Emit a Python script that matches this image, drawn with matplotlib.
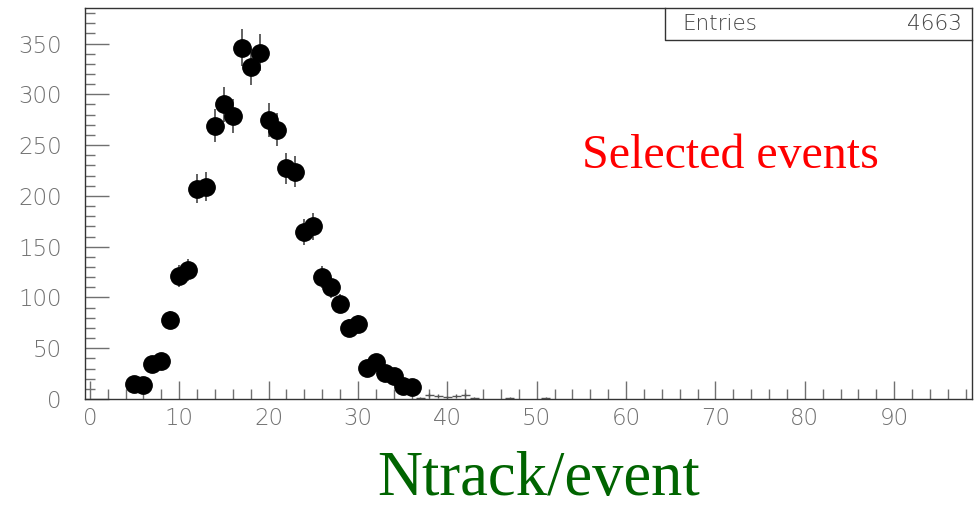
import numpy as np
import matplotlib.pyplot as plt
from matplotlib.ticker import MultipleLocator

# Ntrack per event histogram (bin centres and counts)
ntrack = [5, 6, 7, 8, 9, 10, 11, 12, 13, 14, 15, 16, 17, 18, 19, 20, 21, 22, 23,
          24, 25, 26, 27, 28, 29, 30, 31, 32, 33, 34, 35, 36]
counts = [15, 14, 34, 37, 78, 121, 127, 207, 209, 269, 290, 279, 346, 327, 341, 275,
          265, 227, 224, 164, 170, 120, 110, 94, 70, 74, 31, 36, 26, 23, 13, 12]

# sparse tail bins, drawn as plain crosses
tail_x = [37, 38, 39, 40, 41, 42, 43, 47, 51]
tail_y = [1, 4, 3, 2, 3, 4, 1, 1, 1]

entries = 4663

fig = plt.figure(figsize=(9.74, 5.09), dpi=100)
ax = fig.add_axes([85.3 / 974, 110 / 509, (972 - 85.3) / 974, (399 - 8) / 509])

tick_grey = "#707070"

ax.errorbar(tail_x, tail_y, yerr=np.sqrt(tail_y), xerr=0.5, fmt="none",
            ecolor="#555555", elinewidth=1.0, capsize=0)
ax.errorbar(ntrack, counts, yerr=np.sqrt(counts), fmt="o", color="black",
            markersize=12.5, ecolor="#555555", elinewidth=1.3, capsize=0)

ax.set_xlim(-0.5, 98.7)
ax.set_ylim(0, 385)

ax.xaxis.set_major_locator(MultipleLocator(10))
ax.xaxis.set_minor_locator(MultipleLocator(2))
ax.yaxis.set_major_locator(MultipleLocator(50))
ax.yaxis.set_minor_locator(MultipleLocator(10))

ax.tick_params(axis="x", which="both", direction="in", top=False, colors=tick_grey,
               labelsize=16.5, pad=6)
ax.tick_params(axis="x", which="major", length=13, width=1)
ax.tick_params(axis="x", which="minor", length=7, width=1)
ax.tick_params(axis="y", which="both", direction="in", right=False, colors=tick_grey,
               labelsize=16.5, pad=17)
ax.tick_params(axis="y", which="major", length=17, width=1)
ax.tick_params(axis="y", which="minor", length=7, width=1)
for lab in ax.get_xticklabels() + ax.get_yticklabels():
    lab.set_fontweight("light")

for s in ax.spines.values():
    s.set_color("#333333")
    s.set_linewidth(1)

# stats box
box_left = (665 - 85.3) / (972 - 85.3)
box_bottom = (399 - 40) / (399 - 8)
ax.plot([box_left, box_left, 1.0], [1.0, box_bottom, box_bottom], color="#333333",
        lw=1, transform=ax.transAxes, clip_on=False)
ax.text(box_left + 0.02, (1 + box_bottom) / 2, "Entries", transform=ax.transAxes,
        ha="left", va="center", fontsize=15.5, color="#444444", fontweight="light")
ax.text((962 - 85.3) / (972 - 85.3), (1 + box_bottom) / 2, str(entries),
        transform=ax.transAxes, ha="right", va="center", fontsize=15.5,
        color="#444444", fontweight="light")

fig.text(730 / 974, 1 - 168 / 509, "Selected events", color="red",
         fontsize=34.5, family="Liberation Serif", ha="center", va="baseline")
fig.text(539 / 974, 1 - 495 / 509, "Ntrack/event", color="#006400",
         fontsize=45, family="Liberation Serif", ha="center", va="baseline")

fig.savefig("out.png", dpi=100)
